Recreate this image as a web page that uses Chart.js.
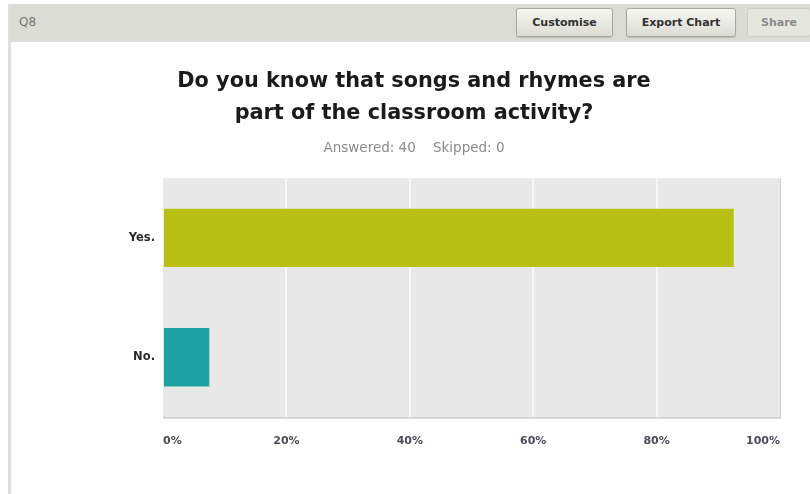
<!DOCTYPE html>
<html>
<head>
<meta charset="utf-8">
<script src="https://cdn.jsdelivr.net/npm/chart.js@4/dist/chart.umd.min.js"></script>
<style>
  body { margin: 0; background: #fff; width: 810px; height: 494px; overflow: hidden; font-family: "DejaVu Sans", sans-serif; }
  #frame { position: absolute; left: 8px; top: 4px; width: 810px; height: 490px; border-left: 3px solid #dedede; }
  #bar { position: absolute; left: 0; top: 0; width: 810px; height: 38px; background: #dcdcd6; }
  #q { position: absolute; left: 8px; top: 11px; font-size: 12px; color: #777; }
  .btn { position: absolute; top: 4px; height: 27px; line-height: 27px; text-align: center; font-size: 11px; font-weight: bold; color: #333;
         border: 1px solid #a9a9a2; border-radius: 3px; background: linear-gradient(#f7f7f3, #dcdcd4); box-shadow: 0 1px 1px rgba(0,0,0,0.15); }
  #wrap { position: absolute; left: 11px; top: 42px; width: 799px; height: 452px; }
</style>
</head>
<body>
<div id="frame">
  <div id="bar">
    <span id="q">Q8</span>
    <div class="btn" style="left:505px;width:95px;">Customise</div>
    <div class="btn" style="left:615px;width:108px;">Export Chart</div>
    <div class="btn" style="left:736px;width:62px;color:#8a8a8a;border-color:#cfcfca;background:#e6e6e1;box-shadow:none;">Share</div>
  </div>
</div>
<div id="wrap"><canvas id="chart"></canvas></div>
<script>
var categories = ["Yes.", "No."]
var percents = [92.5, 7.5]
var barColors = ["#b8c113", "#1ca2a0"]
var tickLabels = ["0%", "20%", "40%", "60%", "80%", "100%"]
var titleLines = ["Do you know that songs and rhymes are", "part of the classroom activity?"]
var subtitleText = "Answered: 40    Skipped: 0"

// grey plot background like the survey export
var plotBg = {
    id: "plotBg",
    beforeDraw: function (chart) {
        var a = chart.chartArea, ctx = chart.ctx
        ctx.save()
        ctx.fillStyle = "#e8e8e8"
        ctx.fillRect(a.left, a.top, a.right - a.left, a.bottom - a.top)
        ctx.fillStyle = "#d2d2d2"
        ctx.fillRect(a.left, a.bottom, a.right - a.left, 2)
        ctx.fillRect(a.right, a.top, 1, a.bottom - a.top + 2)
        ctx.restore()
    }
}

new Chart(document.getElementById("chart"), {
    type: "bar",
    data: {
        labels: categories,
        datasets: [{
            data: percents,
            backgroundColor: barColors,
            borderWidth: 0,
            barPercentage: 0.49,
            categoryPercentage: 1
        }]
    },
    plugins: [plotBg],
    options: {
        indexAxis: "y",
        responsive: true,
        maintainAspectRatio: false,
        animation: false,
        layout: { padding: { left: 37, right: 30, top: 24, bottom: 28 } },
        plugins: {
            legend: { display: false },
            tooltip: { enabled: false },
            title: {
                display: true,
                text: titleLines,
                color: "#1a1a1a",
                font: { family: "DejaVu Sans", size: 20.8, weight: "bold", lineHeight: 1.54 },
                padding: { top: 0, bottom: 6 }
            },
            subtitle: {
                display: true,
                text: subtitleText,
                color: "#8a8a8a",
                font: { family: "DejaVu Sans", size: 13.5, lineHeight: 1.2 },
                padding: { top: 4, bottom: 22 }
            }
        },
        scales: {
            x: {
                min: 0,
                max: 100,
                afterBuildTicks: function (axis) {
                    axis.ticks = tickLabels.map(function (t, i) { return { value: i * 20 } })
                },
                grid: {
                    color: function (c) { return (c.tick.value > 0 && c.tick.value < 100) ? "#f6f6f6" : "rgba(0,0,0,0)" },
                    lineWidth: 2,
                    drawTicks: false
                },
                border: { display: false },
                ticks: {
                    padding: 18,
                    align: "inner",
                    color: "#4a4a5a",
                    font: { family: "DejaVu Sans", size: 11, weight: "bold" },
                    callback: function (v, i) { return tickLabels[i] }
                }
            },
            y: {
                afterFit: function (axis) { axis.width = 115 },
                grid: { display: false, drawTicks: false },
                border: { display: false },
                ticks: {
                    padding: 8,
                    color: "#2a2a2a",
                    font: { family: "DejaVu Sans", size: 11.5, weight: "bold" }
                }
            }
        }
    }
})
</script>
</body>
</html>
